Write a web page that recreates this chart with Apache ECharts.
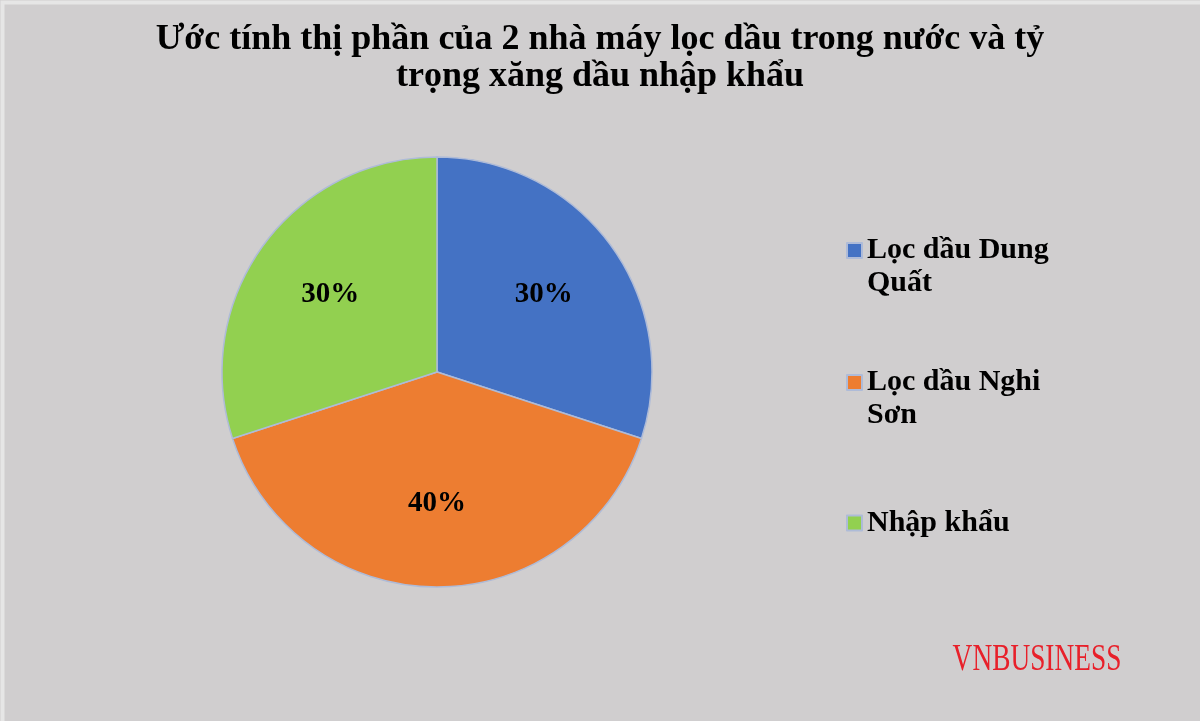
<!DOCTYPE html>
<html>
<head>
<meta charset="utf-8">
<script src="https://cdn.jsdelivr.net/npm/echarts@6/dist/echarts.min.js"></script>
<style>
html,body{margin:0;padding:0;background:#d0cecf;}
#chart{width:1200px;height:721px;}
</style>
</head>
<body>
<div id="chart"></div>
<script>
var titleText = 'Ước tính thị phần của 2 nhà máy lọc dầu trong nước và tỷ\ntrọng xăng dầu nhập khẩu';
var categories = ['Lọc dầu Dung Quất', 'Lọc dầu Nghi Sơn', 'Nhập khẩu'];
var legendLines = ['Lọc dầu Dung\nQuất', 'Lọc dầu Nghi\nSơn', 'Nhập khẩu'];
var values = [30, 40, 30];
var colors = ['#4472c4', '#ed7d31', '#92d050'];
var watermark = 'VNBUSINESS';

var serif = '"Liberation Serif", "Times New Roman", serif';
var pieData = categories.map(function (c, i) {
  return { name: c, value: values[i], itemStyle: { color: colors[i] } };
});
// icon paths: square aligned to the first text line (two-line items) or centred (one-line item)
var iconTop = 'path://M0,0h15v15h-15zM0,48';
var iconMid = 'path://M0,16.5h15v15h-15zM0,0M0,48';

var chart = echarts.init(document.getElementById('chart'));
chart.setOption({
  backgroundColor: '#d0cecf',
  animation: false,
  title: {
    text: titleText,
    left: 'center',
    top: 21,
    padding: 0,
    textStyle: { fontFamily: serif, fontWeight: 'bold', fontSize: 36, lineHeight: 37, color: '#000' }
  },
  legend: {
    orient: 'vertical',
    left: 846,
    top: 234,
    padding: 0,
    itemGap: 66,
    itemWidth: 15,
    itemHeight: 48,
    formatter: function (name) { return legendLines[categories.indexOf(name)]; },
    textStyle: { fontFamily: serif, fontWeight: 'bold', fontSize: 30, lineHeight: 33, color: '#000' },
    data: [
      { name: categories[0], icon: iconTop },
      { name: categories[1], icon: iconTop },
      { name: categories[2], icon: iconMid }
    ]
  },
  series: [
    {
      type: 'pie',
      center: [437, 372],
      radius: [0, 215],
      startAngle: 90,
      clockwise: true,
      label: { show: false },
      labelLine: { show: false },
      itemStyle: { borderColor: '#aebbd8', borderWidth: 1.5 },
      emphasis: { disabled: true },
      data: pieData
    },
    {
      type: 'pie',
      center: [437, 372],
      radius: [0, 258],
      startAngle: 90,
      clockwise: true,
      silent: true,
      z: 3,
      legendHoverLink: false,
      itemStyle: { color: 'rgba(0,0,0,0)', borderWidth: 0 },
      label: {
        show: true,
        position: 'inner',
        formatter: '{d}%',
        fontFamily: serif, fontWeight: 'bold', fontSize: 29, color: '#000'
      },
      labelLine: { show: false },
      emphasis: { disabled: true },
      data: categories.map(function (c, i) { return { name: c, value: values[i] }; })
    }
  ],
  graphic: [
    {
      type: 'rect', left: 0, top: 0, silent: true,
      shape: { width: 1200, height: 721 },
      style: { fill: null, stroke: '#e6e6e6', lineWidth: 4 }
    },
    {
      type: 'text', x: 1037, y: 660, scaleX: 0.72,
      style: { text: watermark, fontFamily: serif, fontSize: 38, fill: '#e8202a', textAlign: 'center', textVerticalAlign: 'middle' }
    }
  ]
});
</script>
</body>
</html>
